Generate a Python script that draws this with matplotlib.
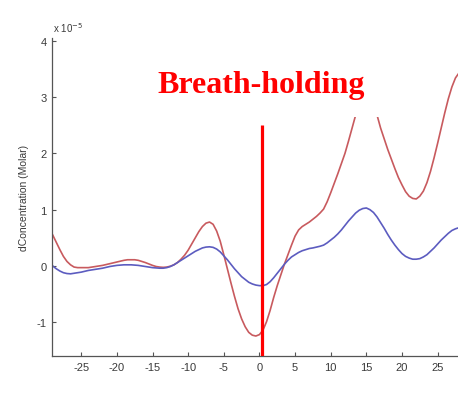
import matplotlib
matplotlib.use("Agg")
import matplotlib.pyplot as plt
import numpy as np

plt.rcParams["axes.unicode_minus"] = False

# time (s) relative to onset of breath-holding, sampled every 0.5 s
time_s = np.arange(-29.0, 28.75, 0.5)

# concentration change, units of 1e-5 Molar
oxy = [0.55, 0.42, 0.29, 0.17, 0.08, 0.02, -0.02, -0.03, -0.03, -0.03,
       -0.03, -0.02, -0.01, 0.0, 0.01, 0.025, 0.04, 0.055,
       0.07, 0.085, 0.1, 0.11, 0.11, 0.11, 0.1, 0.08, 0.06, 0.035,
       0.01, -0.01, -0.02, -0.025, -0.02, -0.005, 0.02, 0.06, 0.12, 0.19,
       0.28, 0.39, 0.5, 0.61, 0.7, 0.76, 0.78, 0.74, 0.62, 0.44,
       0.2, -0.05, -0.3, -0.54, -0.76, -0.94, -1.08, -1.18, -1.23, -1.245,
       -1.22, -1.14, -0.99, -0.79, -0.56, -0.35, -0.16, 0.03, 0.2, 0.37,
       0.53, 0.64, 0.7, 0.74, 0.78, 0.83, 0.88, 0.94, 1.01, 1.14,
       1.3, 1.47, 1.64, 1.82, 2.0, 2.22, 2.45, 2.68, 2.88, 3.0,
       3.05, 3.0, 2.88, 2.68, 2.45, 2.26, 2.07, 1.9, 1.73, 1.57,
       1.44, 1.32, 1.24, 1.2, 1.19, 1.24, 1.33, 1.48, 1.68, 1.92,
       2.18, 2.45, 2.72, 2.97, 3.18, 3.34, 3.43, 3.46]

deoxy = [0.0, -0.05, -0.09, -0.12, -0.135, -0.14, -0.13, -0.12, -0.11, -0.095,
         -0.08, -0.07, -0.06, -0.05, -0.04, -0.025, -0.01, 0.0,
         0.01, 0.015, 0.02, 0.02, 0.02, 0.015, 0.01, 0.0, -0.01, -0.02,
         -0.03, -0.035, -0.04, -0.04, -0.03, -0.01, 0.02, 0.06, 0.1, 0.14,
         0.18, 0.22, 0.26, 0.29, 0.32, 0.335, 0.34, 0.33, 0.3, 0.25,
         0.18, 0.11, 0.03, -0.05, -0.12, -0.19, -0.24, -0.29, -0.32, -0.34,
         -0.35, -0.35, -0.33, -0.28, -0.21, -0.13, -0.05, 0.03, 0.1, 0.16,
         0.2, 0.24, 0.27, 0.29, 0.31, 0.32, 0.335, 0.35, 0.37, 0.41,
         0.46, 0.51, 0.57, 0.64, 0.72, 0.8, 0.87, 0.94, 0.99, 1.02,
         1.03, 1.0, 0.95, 0.87, 0.77, 0.67, 0.56, 0.46, 0.37, 0.29,
         0.22, 0.17, 0.14, 0.12, 0.12, 0.13, 0.16, 0.2, 0.26, 0.32,
         0.39, 0.46, 0.52, 0.58, 0.63, 0.66, 0.68, 0.69]

xticks = [-25, -20, -15, -10, -5, 0, 5, 10, 15, 20, 25]
yticks = [-1, 0, 1, 2, 3, 4]
onset_x = 0.3
onset_top = 2.5

W, H = 458, 402
fig = plt.figure(figsize=(W / 100, H / 100), dpi=100)
ax = fig.add_axes([52 / W, 1 - 357 / H, 1 - 52 / W + 0.01, (357 - 39) / H])

ax.plot(time_s, oxy, color="#c85a5e", lw=1.2)
ax.plot(time_s, deoxy, color="#5c5cc0", lw=1.2)

ymin, ymax = -1.6, 4.05
ax.vlines(onset_x, ymin, onset_top, color="#ff0000", lw=2.3, zorder=5)

ax.set_xlim(-29.1, 28.5)
ax.set_ylim(ymin, ymax)
ax.set_xticks(xticks)
ax.set_yticks(yticks)

for s in ("top", "right"):
    ax.spines[s].set_visible(False)
for s in ("left", "bottom"):
    ax.spines[s].set_color("#555555")
    ax.spines[s].set_linewidth(0.9)

ax.tick_params(direction="in", length=3, width=0.8, color="#555555",
               labelsize=8, labelcolor="#3a3a3a", pad=4)
for lab in ax.get_xticklabels() + ax.get_yticklabels():
    lab.set_fontfamily("Liberation Sans")

fig.text(53 / W, 1 - 28 / H, r"x 10$^{-5}$", fontsize=7, color="#3a3a3a",
         family="Liberation Sans", va="center", ha="left")
fig.text(24 / W, 1 - 198 / H, "dConcentration (Molar)", rotation=90,
         fontsize=7.5, color="#3a3a3a", family="Liberation Sans",
         va="center", ha="center")

fig.text(261.5 / W, 1 - 93 / H, "Breath-holding", color="#ff0000",
         fontsize=23, fontweight="bold", family="Liberation Serif",
         ha="center", va="baseline",
         bbox=dict(boxstyle="square,pad=0.55", facecolor="white",
                   edgecolor="none"))

fig.savefig("out.png", dpi=100)
